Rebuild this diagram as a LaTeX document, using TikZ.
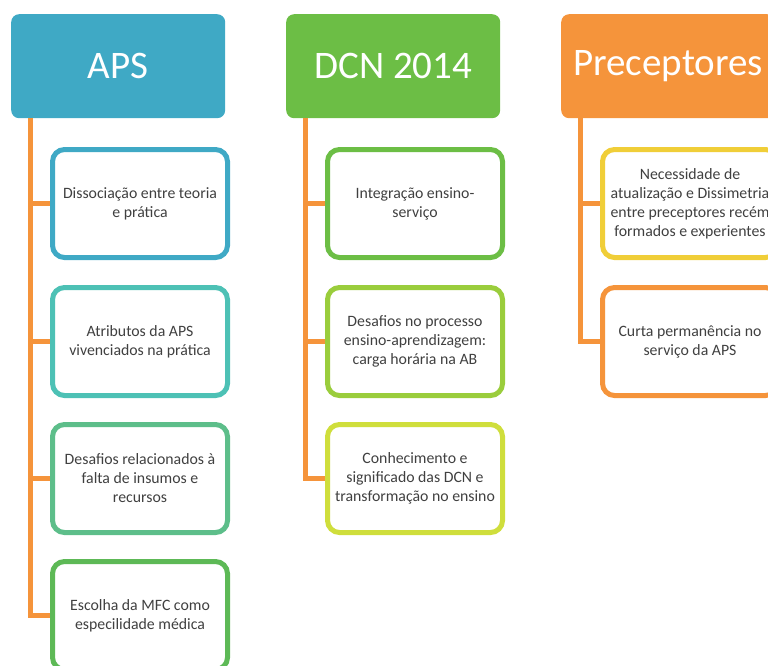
\documentclass[tikz,border=0pt]{standalone}
\usepackage{fontspec}
\setmainfont{Carlito}
\usepackage{tikz}
\usetikzlibrary{calc}
\definecolor{apsblue}{HTML}{3FA9C5}
\definecolor{apsteal}{HTML}{4DC1B5}
\definecolor{apsmint}{HTML}{5DBE8A}
\definecolor{apsgreen}{HTML}{5DB956}
\definecolor{dcngreen}{HTML}{6CBE45}
\definecolor{dcnlime}{HTML}{9ACD3C}
\definecolor{dcnyellow}{HTML}{CFDE3C}
\definecolor{precorange}{HTML}{F5943B}
\definecolor{precyellow}{HTML}{F0CE38}
\definecolor{textgray}{HTML}{404040}
\tikzset{
	head/.style={rectangle,rounded corners=8pt,minimum width=214pt,minimum height=104pt,inner sep=0pt,text=white,font=\fontsize{39}{44}\selectfont,anchor=north west},
	item/.style={draw=#1,line width=5pt,rounded corners=12pt,fill=white,minimum width=175pt,minimum height=108pt,inner sep=0pt,align=center,text=textgray,font=\fontsize{15.8}{19}\selectfont,anchor=north west},
	link/.style={precorange,line width=5pt}
}

\begin{document}
\begin{tikzpicture}[x=1pt,y=-1pt]
		\useasboundingbox (0,0) rectangle (768,665);

		% headers
		\node[head,fill=apsblue] (aps) at (11,14) {APS};
		\node[head,fill=dcngreen] (dcn) at (286,14) {DCN 2014};
		\node[head,fill=precorange] (prec) at (561,14) {Preceptores};

		\coordinate (apsroot) at ($(aps.south west)+(19,0)$);
		\coordinate (dcnroot) at ($(dcn.south west)+(19,0)$);
		\coordinate (precroot) at ($(prec.south west)+(19,0)$);

		% APS
		\node[item=apsblue] (a1) at (50,147) {Dissociação entre teoria\\e prática};
		\node[item=apsteal] (a2) at (50,285) {Atributos da APS\\vivenciados na prática};
		\node[item=apsmint] (a3) at (50,422) {Desafios relacionados à\\falta de insumos e\\recursos};
		\node[item=apsgreen] (a4) at (50,559) {Escolha da MFC como\\especilidade médica};

		% DCN 2014
		\node[item=dcngreen] (d1) at (325,147) {Integração ensino-\\serviço};
		\node[item=dcnlime] (d2) at (325,285) {Desafios no processo\\ensino-aprendizagem:\\carga horária na AB};
		\node[item=dcnyellow] (d3) at (325,422) {Conhecimento e\\significado das DCN e\\transformação no ensino};

		% Preceptores
		\node[item=precyellow] (p1) at (600,147) {Necessidade de\\atualização e Dissimetria\\entre preceptores recém\\formados e experientes};
		\node[item=precorange] (p2) at (600,285) {Curta permanência no\\serviço da APS};

		\foreach \b in {a1,a2,a3,a4}
			\draw[link] (apsroot) |- (\b.west);
		\foreach \b in {d1,d2,d3}
			\draw[link] (dcnroot) |- (\b.west);
		\foreach \b in {p1,p2}
			\draw[link] (precroot) |- (\b.west);
	\end{tikzpicture}
\end{document}
